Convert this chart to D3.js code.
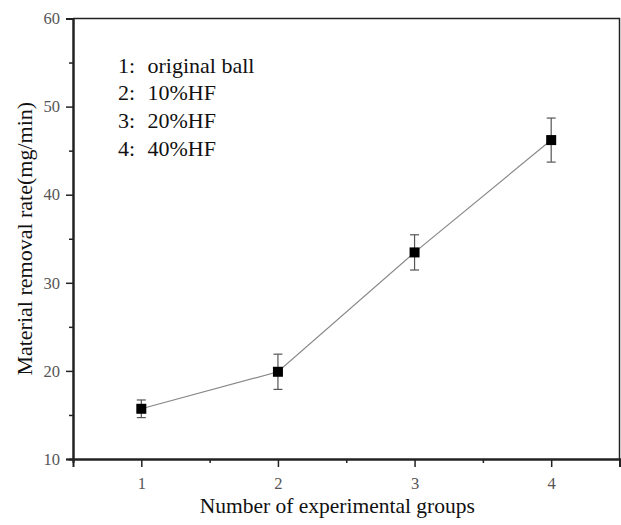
<!DOCTYPE html>
<html>
<head>
<meta charset="utf-8">
<script src="https://cdn.jsdelivr.net/npm/d3@7"></script>
<style>
  body { margin: 0; background: #fff; }
  svg text { font-family: "Liberation Serif", "Times New Roman", serif; }
</style>
</head>
<body>
<script>
// experimental groups and measured removal rate (mg/min)
var groups = [1, 2, 3, 4];
var rates = [15.7, 19.9, 33.45, 46.2];
var errors = [1.0, 2.0, 2.0, 2.5];
var legendNums = ["1:", "2:", "3:", "4:"];
var legendLabels = ["original ball", "10%HF", "20%HF", "40%HF"];
var yTicks = [10, 20, 30, 40, 50, 60];
var yMinor = [15, 25, 35, 45, 55];
var xMinor = [1.5, 2.5, 3.5];

var W = 621, H = 525;
var margin = { top: 18.5, right: 1.5, bottom: 66, left: 73 },
    width = W - margin.left - margin.right,
    height = H - margin.top - margin.bottom;

var svg = d3.select("body").append("svg")
    .attr("width", W)
    .attr("height", H);

var g = svg.append("g")
    .attr("transform", "translate(" + margin.left + "," + margin.top + ")");

var x = d3.scaleLinear().domain([0.5, 4.5]).range([0, width]);
var y = d3.scaleLinear().domain([10, 60]).range([height, 0]);

// box: top and right edges
g.append("path")
    .attr("d", "M0,0H" + width + "V" + height)
    .attr("fill", "none")
    .attr("stroke", "#222")
    .attr("stroke-width", 1.5);

// minor ticks first
g.append("g")
    .attr("class", "axis")
    .attr("transform", "translate(0," + height + ")")
    .call(d3.axisBottom(x).tickValues(xMinor).tickSize(4).tickFormat(""));
g.append("g")
    .attr("class", "axis")
    .call(d3.axisLeft(y).tickValues(yMinor).tickSize(4).tickFormat(""));

var xAxis = g.append("g")
    .attr("class", "axis")
    .attr("transform", "translate(0," + height + ")")
    .call(d3.axisBottom(x).tickValues(groups).tickSize(8).tickPadding(10).tickFormat(d3.format("d")));

var yAxis = g.append("g")
    .attr("class", "axis")
    .call(d3.axisLeft(y).tickValues(yTicks).tickSize(7).tickPadding(6).tickFormat(d3.format("d")));

g.selectAll(".axis path.domain").attr("stroke", "#222").attr("stroke-width", 2);
g.selectAll(".axis .tick line").attr("stroke", "#222").attr("stroke-width", 1.5);
g.selectAll(".axis .tick text")
    .attr("fill", "#555")
    .style("font-size", "16.5px");

// axis titles
svg.append("text")
    .attr("x", margin.left + width / 2 - 9)
    .attr("y", 512.5)
    .attr("text-anchor", "middle")
    .attr("fill", "#111")
    .style("font-size", "21.5px")
    .text("Number of experimental groups");

svg.append("text")
    .attr("transform", "translate(32," + (margin.top + height / 2) + ") rotate(-90)")
    .attr("text-anchor", "middle")
    .attr("fill", "#111")
    .style("font-size", "22px")
    .text("Material removal rate(mg/min)");

// connecting line
var line = d3.line()
    .x(function (d, i) { return x(groups[i]); })
    .y(function (d) { return y(d); });

g.append("path")
    .datum(rates)
    .attr("d", line)
    .attr("fill", "none")
    .attr("stroke", "#888")
    .attr("stroke-width", 1.2);

// error bars
var err = g.append("g").selectAll("g")
    .data(rates)
    .enter().append("g")
    .attr("stroke", "#555")
    .attr("stroke-width", 1.2);

err.append("line")
    .attr("x1", function (d, i) { return x(groups[i]); })
    .attr("x2", function (d, i) { return x(groups[i]); })
    .attr("y1", function (d, i) { return y(d + errors[i]); })
    .attr("y2", function (d, i) { return y(d - errors[i]); });

err.append("line")
    .attr("x1", function (d, i) { return x(groups[i]) - 4.5; })
    .attr("x2", function (d, i) { return x(groups[i]) + 4.5; })
    .attr("y1", function (d, i) { return y(d + errors[i]); })
    .attr("y2", function (d, i) { return y(d + errors[i]); });

err.append("line")
    .attr("x1", function (d, i) { return x(groups[i]) - 4.5; })
    .attr("x2", function (d, i) { return x(groups[i]) + 4.5; })
    .attr("y1", function (d, i) { return y(d - errors[i]); })
    .attr("y2", function (d, i) { return y(d - errors[i]); });

// square markers
var s = 10;
g.append("g").selectAll("rect")
    .data(rates)
    .enter().append("rect")
    .attr("x", function (d, i) { return x(groups[i]) - s / 2; })
    .attr("y", function (d) { return y(d) - s / 2; })
    .attr("width", s)
    .attr("height", s)
    .attr("fill", "#000");

// legend text
var legend = svg.append("g").selectAll("g")
    .data(legendLabels)
    .enter().append("g")
    .attr("transform", function (d, i) { return "translate(118," + (72.5 + i * 27.8) + ")"; });

legend.append("text")
    .attr("fill", "#111")
    .style("font-size", "22px")
    .text(function (d, i) { return legendNums[i]; });

legend.append("text")
    .attr("x", 29.5)
    .attr("fill", "#111")
    .style("font-size", "22px")
    .text(function (d) { return d; });
</script>
</body>
</html>
